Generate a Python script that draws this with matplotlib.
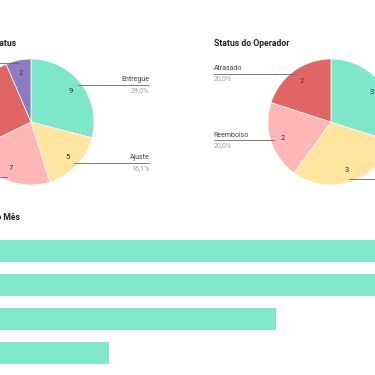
import numpy as np
import matplotlib
matplotlib.use("Agg")
import matplotlib.pyplot as plt

plt.rcParams['font.family'] = ['Roboto', 'DejaVu Sans']

# data
status_labels = ['Entregue', 'Ajuste', 'Reembolso', 'Atrasado', 'Cancelado']
status_values = [9, 5, 7, 8, 2]
status_colors = ['#7ee6c9', '#ffe5a0', '#ffb6b6', '#e06666', '#8e7cc3']

oper_labels = ['Entregue', 'Ajuste', 'Reembolso', 'Atrasado']
oper_values = [3, 3, 2, 2]
oper_colors = ['#7ee6c9', '#ffe5a0', '#ffb6b6', '#e06666']

month_labels = ['Jan', 'Fev', 'Mar', 'Abr']
month_values = [9, 9, 5, 2]
bar_color = '#80e8c9'

W = H = 375
fig = plt.figure(figsize=(3.75, 3.75), dpi=100)


def box(x0, y0, w, h):
    # pixel box (top-left origin) -> figure fraction
    return [x0 / W, 1 - (y0 + h) / H, w / W, h / H]


def pie_panel(cx, cy, r, values, labels, colors, side_x):
    ax = fig.add_axes(box(cx - r, cy - r, 2 * r, 2 * r))
    total = sum(values)
    wedges, _, autotexts = ax.pie(
        values, colors=colors, startangle=90, counterclock=False,
        autopct=lambda p: '%d' % round(p * total / 100.0), pctdistance=0.8,
        wedgeprops=dict(edgecolor='white', linewidth=0.5),
        textprops=dict(fontsize=5.5, color='#333333'))
    ax.set_xlim(-1, 1)
    ax.set_ylim(-1, 1)
    ax.set_aspect('equal')
    ax.axis('off')
    for w, lab, v in zip(wedges, labels, values):
        ang = np.deg2rad((w.theta1 + w.theta2) / 2)
        x, y = 0.95 * np.cos(ang), 0.95 * np.sin(ang)
        tx = side_x if x > 0 else -side_x
        ax.plot([x, tx], [y, y], color='#666666', lw=0.6, clip_on=False)
        ha = 'right' if x > 0 else 'left'
        ax.text(tx, y + 0.03, lab, ha=ha, va='bottom', fontsize=5,
                color='#444444', clip_on=False)
        ax.text(tx, y - 0.03, ('%.1f%%' % (100.0 * v / total)).replace('.', ','),
                ha=ha, va='top', fontsize=5, color='#9e9e9e', clip_on=False)
    return ax


pie_panel(31, 122, 63, status_values, status_labels, status_colors, 1.88)
pie_panel(331, 122, 63, oper_values, oper_labels, oper_colors, 1.86)

fig.text(16.5 / W, 1 - 44 / H, 'Status', fontsize=6.2, fontweight='bold',
         color='#222222', ha='right', va='center')
fig.text(214 / W, 1 - 44 / H, 'Status do Operador', fontsize=6.2,
         fontweight='bold', color='#222222', ha='left', va='center')
fig.text(20.5 / W, 1 - 217 / H, 'Pedidos do Mês', fontsize=6.2,
         fontweight='bold', color='#222222', ha='right', va='center')

# bars
axb = fig.add_axes(box(-2.3, 234, 402.3, 136))
y = np.arange(len(month_values))
axb.barh(y, month_values, height=0.65, color=bar_color)
axb.set_xlim(0, 402.3 / 55.7)
axb.set_ylim(len(month_values) - 0.5, -0.5)
axb.axis('off')

fig.savefig('out.png', dpi=100, facecolor='white')
